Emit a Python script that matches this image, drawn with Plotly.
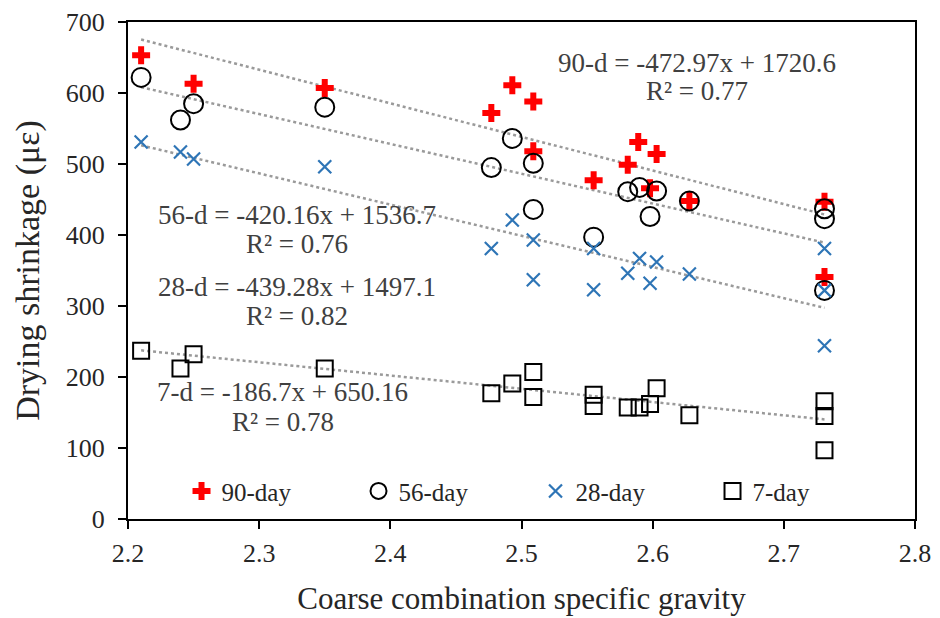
import plotly.graph_objects as go

# ---------------- data ----------------
x90 = [2.21, 2.25, 2.35, 2.477, 2.493, 2.509, 2.509, 2.555, 2.581, 2.589, 2.603, 2.598, 2.628, 2.731, 2.731]
y90 = [653, 613, 607, 572, 611, 588, 518, 477, 499, 531, 514, 466, 448, 447, 341]

x56 = [2.21, 2.24, 2.25, 2.35, 2.477, 2.493, 2.509, 2.509, 2.555, 2.581, 2.590, 2.598, 2.603, 2.628, 2.731, 2.731, 2.731]
y56 = [622, 562, 585, 580, 495, 536, 501, 436, 397, 461, 467, 426, 462, 448, 437, 423, 322]

x28 = [2.21, 2.24, 2.25, 2.35, 2.477, 2.493, 2.509, 2.509, 2.555, 2.555, 2.581, 2.590, 2.598, 2.603, 2.628, 2.731, 2.731, 2.731]
y28 = [531, 517, 507, 496, 381, 421, 393, 337, 381, 323, 346, 367, 332, 362, 345, 381, 322, 244]

x7 = [2.21, 2.24, 2.25, 2.35, 2.477, 2.493, 2.509, 2.509, 2.555, 2.555, 2.581, 2.590, 2.598, 2.603, 2.628, 2.731, 2.731, 2.731]
y7 = [237, 212, 232, 212, 177, 191, 207, 172, 175, 159, 157, 157, 162, 184, 146, 166, 145, 97]

series_names = ["90-day", "56-day", "28-day", "7-day"]
trend_labels = ["90-d", "56-d", "28-d", "7-d"]
trend_slopes = [-472.97, -420.16, -439.28, -186.7]
trend_intercepts = [1720.6, 1536.7, 1497.1, 650.16]
trend_r2 = [0.77, 0.76, 0.82, 0.78]

x_ticks = [2.2, 2.3, 2.4, 2.5, 2.6, 2.7, 2.8]
y_ticks = [0, 100, 200, 300, 400, 500, 600, 700]

# ---------------- styling ----------------
FONT = "Liberation Serif"
TXT = "#262626"
marker_styles = [
    dict(symbol="cross", size=15, color="#FF0000", line=dict(width=0)),
    dict(symbol="circle-open", size=19, color="#000000", line=dict(width=2)),
    dict(symbol="x-thin-open", size=13, color="#2E75B6", line=dict(width=2.2, color="#2E75B6")),
    dict(symbol="square-open", size=16, color="#000000", line=dict(width=2)),
]
data_x = [x90, x56, x28, x7]
data_y = [y90, y56, y28, y7]

fig = go.Figure()

# trendlines (computed from the fitted coefficients over each series' x span)
for xs, m, b in zip(data_x, trend_slopes, trend_intercepts):
    x0, x1 = min(xs), max(xs)
    fig.add_trace(go.Scatter(
        x=[x0, x1], y=[m * x0 + b, m * x1 + b], mode="lines",
        line=dict(color="#9A9A9A", width=2.5, dash="dot"),
        showlegend=False, hoverinfo="skip"))

for xs, ys, name, mk in zip(data_x, data_y, series_names, marker_styles):
    fig.add_trace(go.Scatter(x=xs, y=ys, mode="markers", name=name, marker=mk))

# trendline equation labels
label_pos = [  # (x paper, y paper eq, y paper R2)
    (0.723, 0.918, 0.862),
    (0.2145, 0.612, 0.554),
    (0.2145, 0.467, 0.409),
    (0.1965, 0.256, 0.196),
]
ann_font = dict(family=FONT, size=27, color="#404040")
for lab, m, b, r2, (px, py1, py2) in zip(trend_labels, trend_slopes, trend_intercepts, trend_r2, label_pos):
    fig.add_annotation(x=px, y=py1, xref="paper", yref="paper", showarrow=False,
                       text=f"{lab} = {m:g}x + {b:g}", font=ann_font,
                       xanchor="center", yanchor="middle")
    fig.add_annotation(x=px, y=py2, xref="paper", yref="paper", showarrow=False,
                       text=f"R² = {r2:.2f}", font=ann_font,
                       xanchor="center", yanchor="middle")

tick_common = dict(showgrid=False, zeroline=False, tickcolor="black", tickwidth=2, ticklen=8,
                   automargin=False)

fig.update_layout(
    width=932, height=610,
    margin=dict(l=120, r=25, t=14, b=99),
    paper_bgcolor="white", plot_bgcolor="white",
    font=dict(family=FONT, size=26, color=TXT),
    xaxis=dict(range=[2.2, 2.8], tickvals=x_ticks, ticktext=[f"{v:.1f}" for v in x_ticks],
               ticks="outside", showline=True, mirror=True, linecolor="black", linewidth=2,
               title=dict(text="Coarse combination specific gravity",
                          font=dict(family=FONT, size=31, color=TXT), standoff=20),
               tickfont=dict(family=FONT, size=26, color=TXT), ticklabelstandoff=2, **tick_common),
    yaxis=dict(range=[0, 700], tickvals=y_ticks, ticks="outside", showline=True, mirror=True,
               linecolor="black", linewidth=2,
               title=dict(text="Drying shrinkage (με)", font=dict(family=FONT, size=34, color=TXT), standoff=16),
               tickfont=dict(family=FONT, size=26, color=TXT), ticklabelstandoff=8, **tick_common),
    xaxis2=dict(overlaying="x", anchor="y", range=[2.2, 2.8], tickvals=x_ticks, ticks="inside",
                showticklabels=False, showline=False, **tick_common),
    yaxis2=dict(overlaying="y", anchor="x", range=[0, 700], tickvals=y_ticks, ticks="inside",
                showticklabels=False, showline=False, **tick_common),
    legend=dict(orientation="h", x=0.068, y=0.056, xanchor="left", yanchor="middle",
                bgcolor="rgba(0,0,0,0)", font=dict(family=FONT, size=25, color=TXT),
                entrywidth=132, itemwidth=30, tracegroupgap=0),
    showlegend=True,
)

fig.write_html("out.html")
